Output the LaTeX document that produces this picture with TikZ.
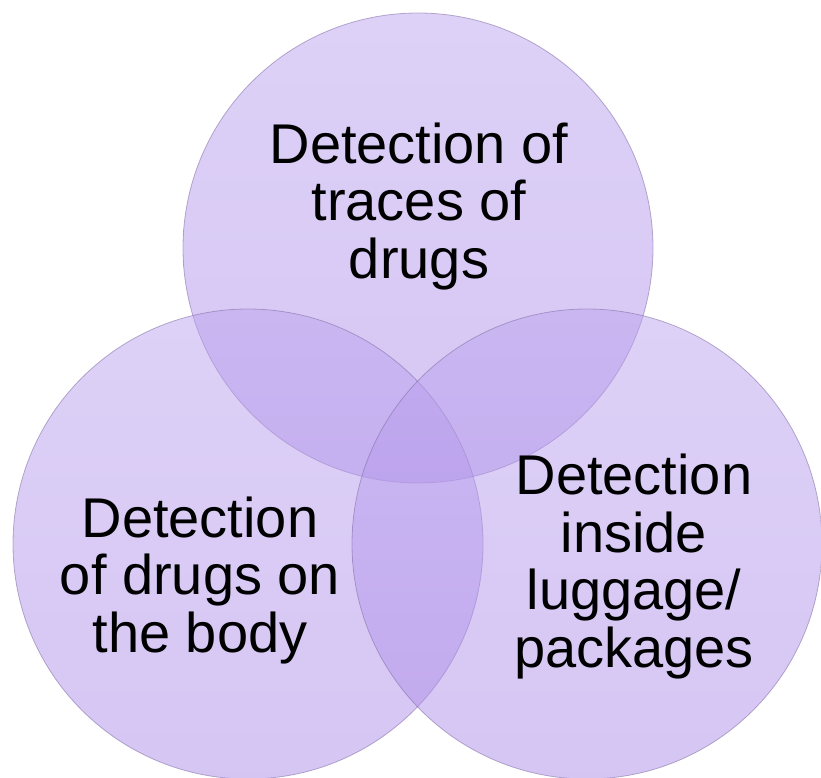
\documentclass[tikz,border=0pt]{standalone}
\usepackage{fontspec}
\setmainfont{Liberation Sans}
\definecolor{venntop}{RGB}{188,164,239}
\definecolor{vennbot}{RGB}{172,140,232}
\definecolor{vennline}{RGB}{130,110,165}
\begin{document}
\begin{tikzpicture}[x=1pt,y=-1pt,
  venn/.style={circle, minimum size=470pt, inner sep=0pt,
    top color=venntop, bottom color=vennbot, fill opacity=0.5,
    draw=vennline, draw opacity=0.55, line width=0.8pt},
  vtext/.style={align=center, font=\fontsize{56}{57.5}\selectfont,
    inner sep=0pt, text=black, text opacity=1}]
\useasboundingbox (0,0) rectangle (821,778);
\node[venn] (cTop) at (418,248) {};
\node[venn] (cLeft) at (248,544) {};
\node[venn] (cRight) at (587,544) {};
\node[vtext, anchor=base] (tTop) at (419,278) {Detection of\\traces of\\drugs};
\node[vtext, anchor=base] (tLeft) at (200,652) {Detection\\of drugs on\\the body};
\node[vtext, anchor=base] (tRight) at (634,667) {Detection\\inside\\luggage/\\packages};
\end{tikzpicture}
\end{document}
